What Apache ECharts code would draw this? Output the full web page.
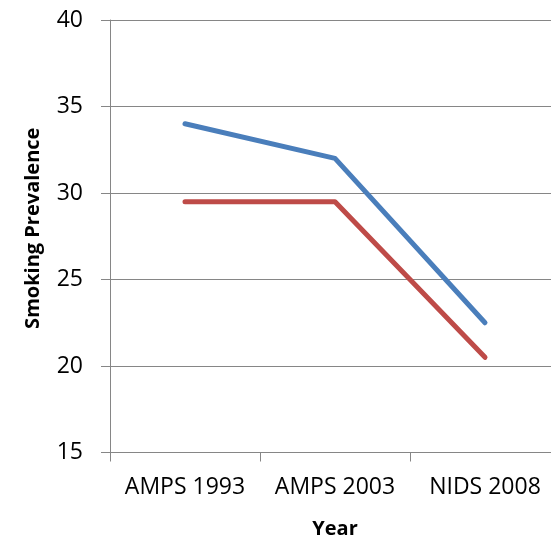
<!DOCTYPE html>
<html><head><meta charset="utf-8">
<script src="https://cdn.jsdelivr.net/npm/echarts@6/dist/echarts.min.js"></script>
<style>html,body{margin:0;padding:0;background:#fff}#c{width:551px;height:538px}</style>
</head><body><div id="c"></div>
<script>
const categories = ["AMPS 1993", "AMPS 2003", "NIDS 2008"];
const seriesBlue = [34, 32, 22.5];
const seriesRed = [29.5, 29.5, 20.5];
const yTicks = [15, 20, 25, 30, 35, 40];

const chart = echarts.init(document.getElementById('c'), null, {renderer: 'canvas'});
const font = '"Open Sans", "Liberation Sans", sans-serif';
chart.setOption({
  animation: false,
  grid: {left: 110, top: 20, width: 450, height: 432.5, containLabel: false, outerBoundsMode: 'none'},
  xAxis: {
    type: 'category', data: categories, boundaryGap: true,
    name: 'Year', nameLocation: 'middle', nameGap: 67,
    nameTextStyle: {fontFamily: font, fontWeight: 'bold', fontSize: 20, color: '#000'},
    axisLine: {lineStyle: {color: '#868686', width: 1}},
    axisTick: {show: true, length: 9, lineStyle: {color: '#868686'}},
    axisLabel: {fontFamily: font, fontSize: 23, color: '#000', margin: 23, interval: 0, hideOverlap: false},
    splitLine: {show: false}
  },
  yAxis: {
    type: 'value', min: yTicks[0], max: yTicks[yTicks.length - 1], interval: 5,
    name: 'Smoking Prevalence', nameLocation: 'middle', nameGap: 67, nameRotate: 90,
    nameTextStyle: {fontFamily: font, fontWeight: 'bold', fontSize: 20, color: '#000', padding: [0, 0, 0, 16]},
    axisLine: {show: true, lineStyle: {color: '#868686', width: 1}},
    axisTick: {show: true, length: 9, lineStyle: {color: '#868686'}},
    axisLabel: {fontFamily: font, fontSize: 23, color: '#000', margin: 27},
    splitLine: {show: true, lineStyle: {color: '#868686', width: 1}}
  },
  series: [
    {type: 'line', data: seriesBlue, symbol: 'none', lineStyle: {color: '#4a7ebb', width: 5, cap: 'round', join: 'round'}, itemStyle: {color: '#4a7ebb'}},
    {type: 'line', data: seriesRed, symbol: 'none', lineStyle: {color: '#be4b48', width: 5, cap: 'round', join: 'round'}, itemStyle: {color: '#be4b48'}}
  ]
});
</script></body></html>
